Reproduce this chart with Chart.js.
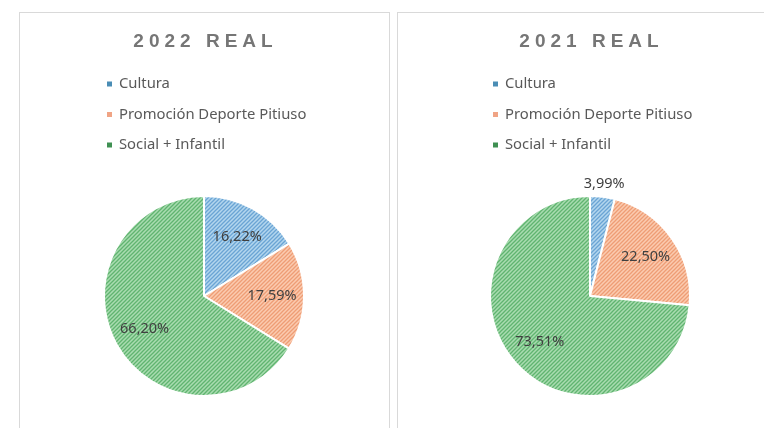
<!DOCTYPE html>
<html>
<head>
<meta charset="utf-8">
<script src="https://cdn.jsdelivr.net/npm/chart.js@4/dist/chart.umd.min.js"></script>
<style>
  body { margin:0; background:#fff; width:764px; height:428px; overflow:hidden; position:relative; }
  .panel { position:absolute; top:12px; height:430px; border:1px solid #d9d9d9; box-sizing:border-box; }
  #p1 { left:19px; width:371px; }
  #p2 { left:397px; width:380px; }
  canvas { position:absolute; top:0; }
  #c2022 { left:34px; }
  #c2021 { left:420px; }
</style>
</head>
<body>
<div class="panel" id="p1"></div>
<div class="panel" id="p2"></div>
<canvas id="c2022" width="340" height="428"></canvas>
<canvas id="c2021" width="340" height="428"></canvas>
<script>
var categories = ['Cultura', 'Promoción Deporte Pitiuso', 'Social + Infantil'];
var values2022 = [16.22, 17.59, 66.20];
var values2021 = [3.99, 22.50, 73.51];
var title2022 = '2022 REAL';
var title2021 = '2021 REAL';

var hatchBg   = ['#b3d6ee', '#fbcbb0', '#a9dcb0'];
var hatchLine = ['#6aa4d4', '#ee9d75', '#60b470'];
var markerColors = ['#4a8db5', '#f0a485', '#3f9052'];

function hatch(bg, line) {
  var c = document.createElement('canvas');
  c.width = c.height = 4;
  var x = c.getContext('2d');
  x.fillStyle = bg;
  x.fillRect(0, 0, 4, 4);
  x.strokeStyle = line;
  x.lineWidth = 1.3;
  x.beginPath();
  x.moveTo(0, 4); x.lineTo(4, 0);
  x.moveTo(-1, 1); x.lineTo(1, -1);
  x.moveTo(3, 5); x.lineTo(5, 3);
  x.stroke();
  return x.createPattern(c, 'repeat');
}
var patterns = hatchBg.map(function (bg, i) { return hatch(bg, hatchLine[i]); });

// title, legend and percent labels
var decor = {
  id: 'decor',
  afterDraw: function (chart) {
    var ctx = chart.ctx;
    var meta = chart.getDatasetMeta(0);
    var cx = meta.data[0].x;
    ctx.save();

    ctx.font = 'bold 19px "Liberation Sans", Arial, sans-serif';
    ctx.letterSpacing = '5px';
    ctx.fillStyle = '#767676';
    ctx.textAlign = 'center';
    ctx.textBaseline = 'middle';
    ctx.fillText(chart.options.plugins.decor.title, cx + 1.5, 42);
    ctx.letterSpacing = '0px';

    ctx.font = '14.8px "Noto Sans", sans-serif';
    ctx.textAlign = 'left';
    categories.forEach(function (name, i) {
      var y = 84 + i * 30.5;
      ctx.fillStyle = markerColors[i];
      ctx.fillRect(cx - 97, y - 2.5, 5, 5);
      ctx.fillStyle = '#595959';
      ctx.fillText(name, cx - 85, y);
    });

    ctx.font = '14.5px "Noto Sans", sans-serif';
    ctx.fillStyle = '#404040';
    ctx.textAlign = 'center';
    var vals = chart.data.datasets[0].data;
    meta.data.forEach(function (arc, i) {
      var p = arc.getProps(['x', 'y', 'startAngle', 'endAngle', 'outerRadius'], true);
      var mid = (p.startAngle + p.endAngle) / 2;
      var r = vals[i] < 5 ? p.outerRadius + 13 : p.outerRadius * 0.68;
      var txt = vals[i].toFixed(2).replace('.', ',') + '%';
      ctx.fillText(txt, p.x + Math.cos(mid) * r, p.y + Math.sin(mid) * r);
    });
    ctx.restore();
  }
};

function makePie(id, values, title) {
  return new Chart(document.getElementById(id), {
    type: 'pie',
    data: {
      labels: categories,
      datasets: [{
        data: values,
        backgroundColor: patterns,
        borderColor: '#ffffff',
        borderWidth: 2
      }]
    },
    options: {
      responsive: false,
      animation: false,
      layout: { padding: { top: 195, bottom: 31 } },
      plugins: {
        legend: { display: false },
        tooltip: { enabled: false },
        decor: { title: title }
      }
    },
    plugins: [decor]
  });
}

makePie('c2022', values2022, title2022);
makePie('c2021', values2021, title2021);
</script>
</body>
</html>
